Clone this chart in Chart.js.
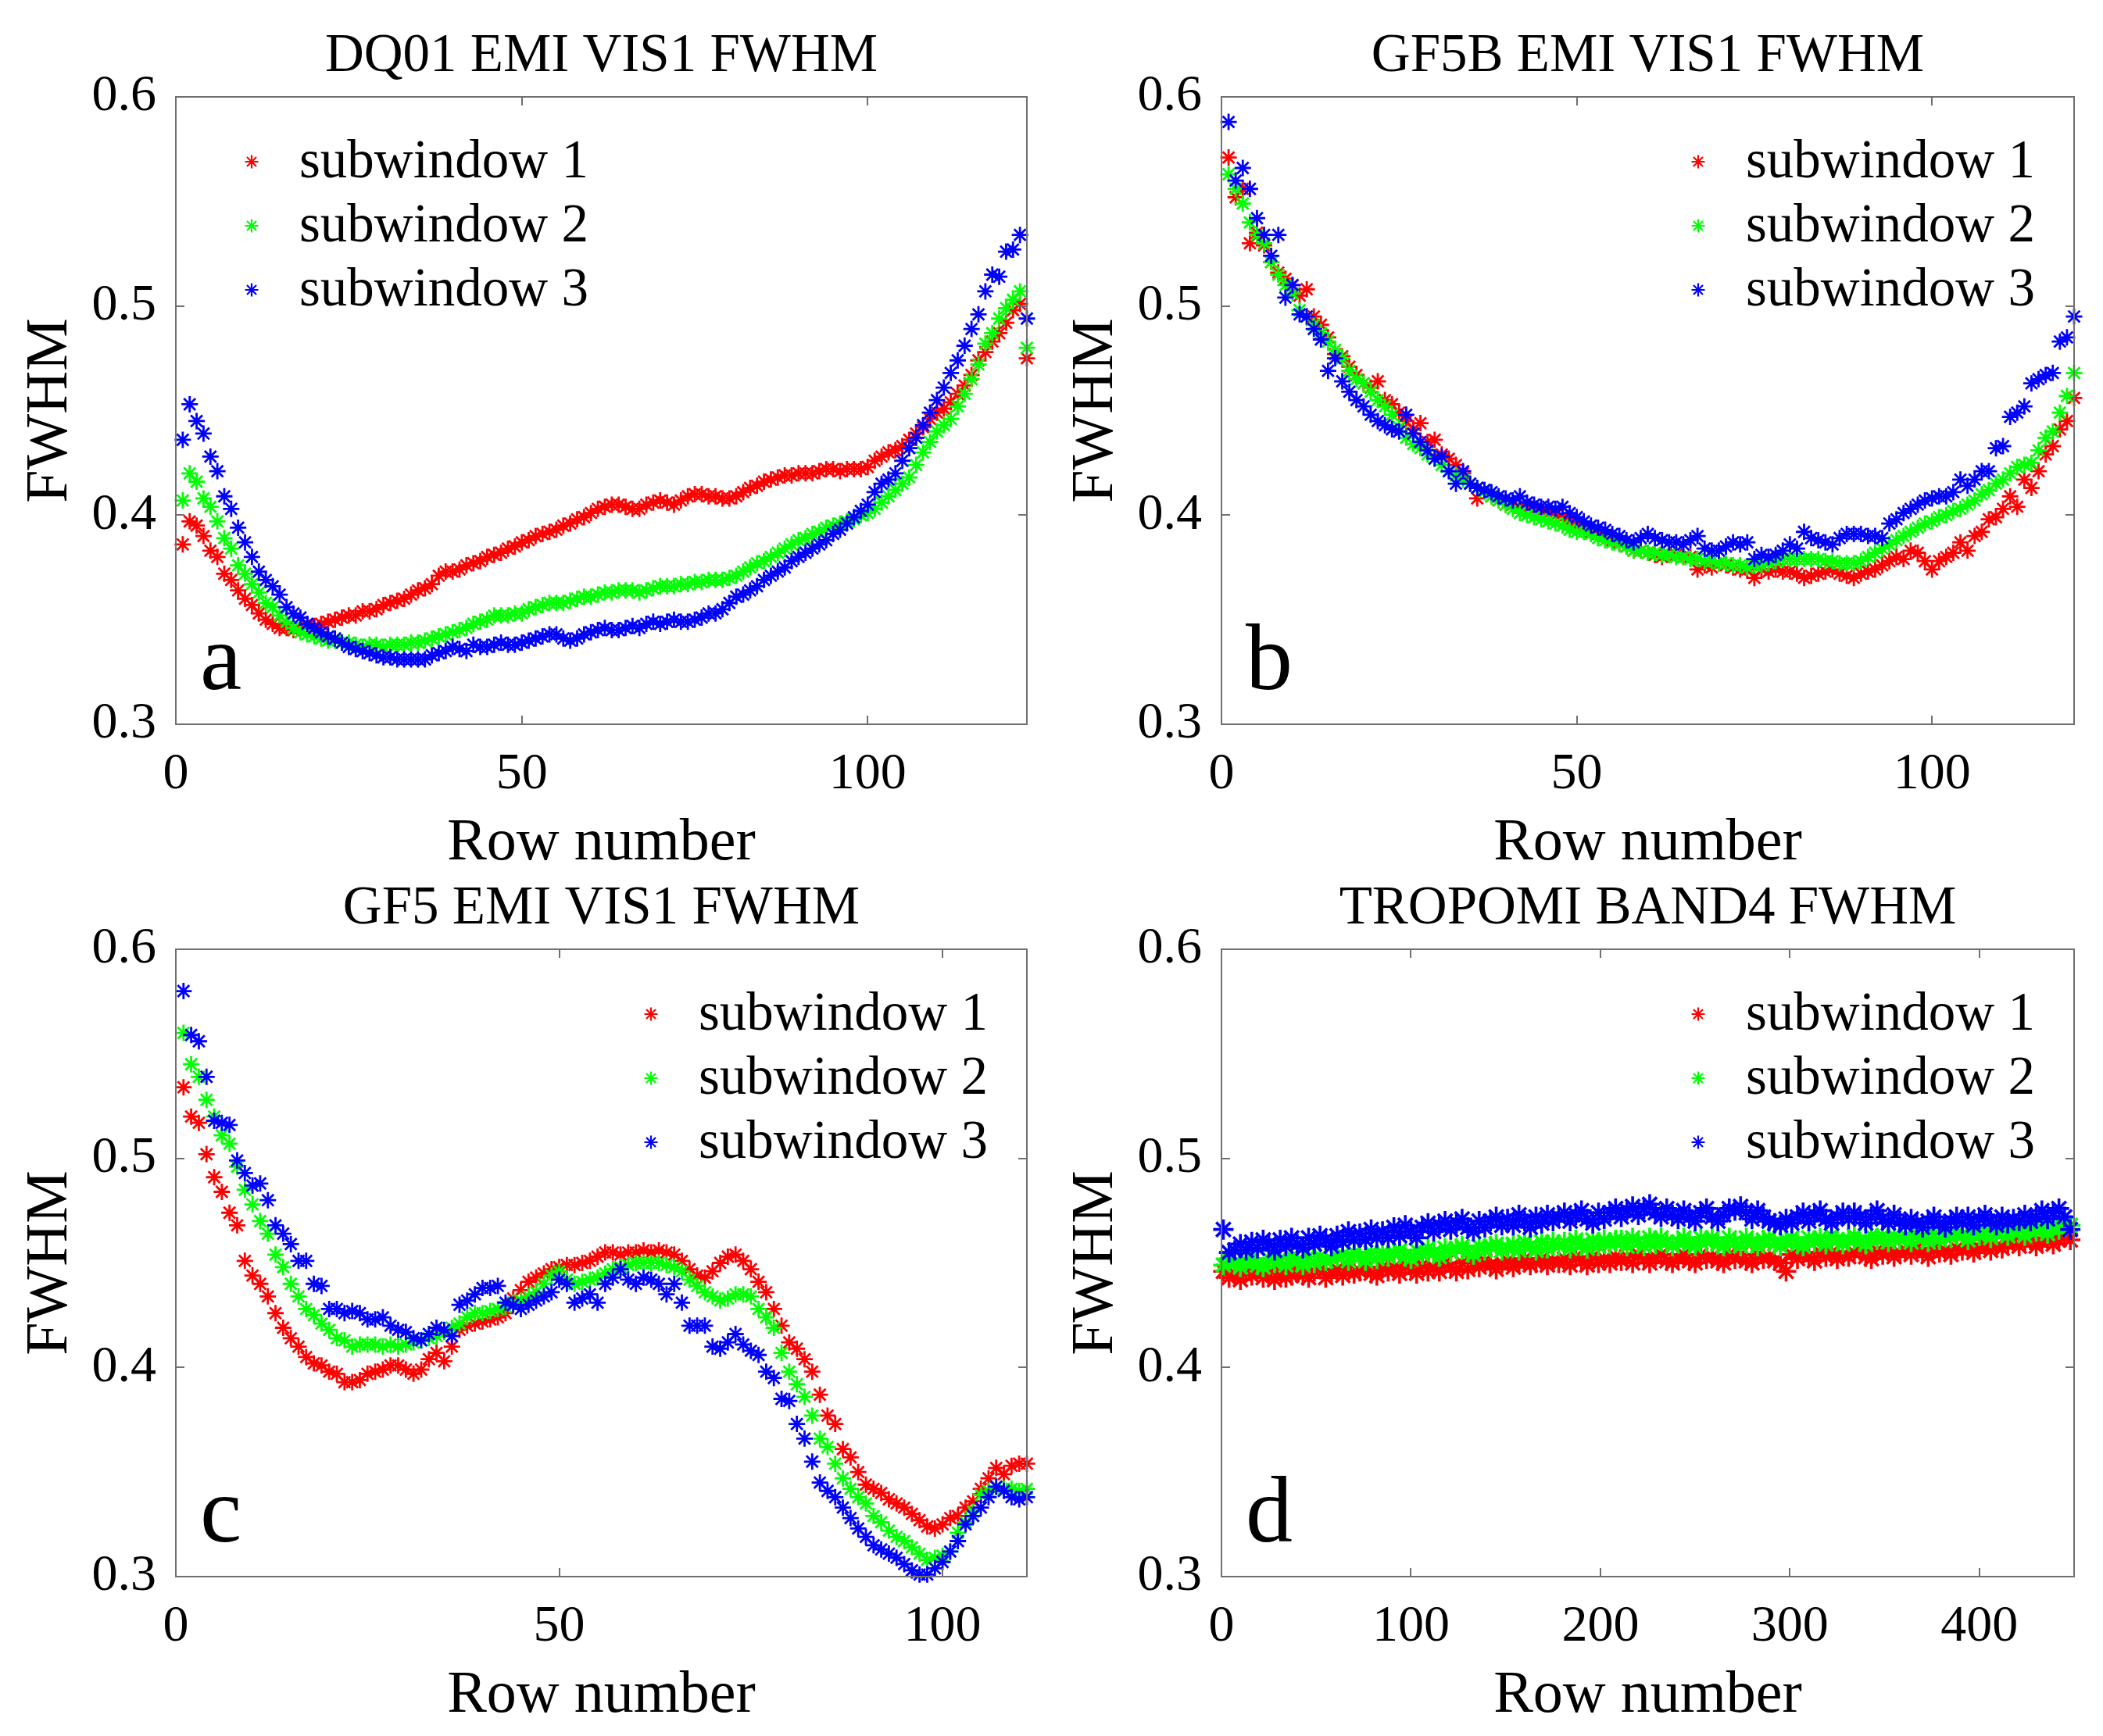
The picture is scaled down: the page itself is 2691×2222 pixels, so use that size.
<!DOCTYPE html>
<html>
<head>
<meta charset="utf-8">
<script src="https://cdn.jsdelivr.net/npm/chart.js@4.4.1/dist/chart.umd.min.js"></script>
<style>
  html, body { margin: 0; padding: 0; background: #fff; overflow: hidden; }
  body { width: 2691px; height: 2222px; position: relative; }
  .panel { position: absolute; }
  .panel canvas { display: block; }
</style>
</head>
<body>
<div class="panel" style="left:0px;top:0px"><canvas id="chartA" width="1345" height="1130"></canvas></div>
<div class="panel" style="left:1338px;top:0px"><canvas id="chartB" width="1353" height="1130"></canvas></div>
<div class="panel" style="left:0px;top:1091px"><canvas id="chartC" width="1345" height="1130"></canvas></div>
<div class="panel" style="left:1338px;top:1091px"><canvas id="chartD" width="1353" height="1130"></canvas></div>
<script>
// series names and colours (MATLAB r*, g*, b*)
const seriesNames = ["subwindow 1", "subwindow 2", "subwindow 3"];
const seriesColors = ["#ff0000", "#00ff00", "#0000ff"];

// tick labels
const yTicks = [0.3, 0.4, 0.5, 0.6];
const xTicksEmi = [0, 50, 100];
const xTicksTropomi = [0, 100, 200, 300, 400];

// panel a: DQ01 EMI VIS1, rows 1..123
const dq01Sub1 = [0.386,0.397,0.395,0.390,0.383,0.380,0.372,0.369,0.364,0.360,
  0.357,0.353,0.350,0.348,0.346,0.346,0.345,0.346,0.347,0.347,
  0.348,0.349,0.350,0.351,0.352,0.352,0.354,0.354,0.355,0.357,
  0.358,0.359,0.360,0.362,0.364,0.365,0.367,0.371,0.373,0.373,
  0.374,0.376,0.377,0.378,0.380,0.381,0.382,0.384,0.385,0.387,
  0.388,0.390,0.391,0.392,0.393,0.395,0.396,0.398,0.399,0.401,
  0.403,0.404,0.405,0.405,0.404,0.403,0.403,0.405,0.406,0.407,
  0.406,0.405,0.407,0.409,0.410,0.410,0.409,0.409,0.408,0.408,
  0.409,0.411,0.413,0.414,0.416,0.417,0.418,0.419,0.419,0.420,
  0.420,0.420,0.421,0.422,0.422,0.421,0.422,0.422,0.422,0.423,
  0.426,0.428,0.430,0.431,0.433,0.436,0.439,0.442,0.446,0.449,
  0.451,0.454,0.458,0.462,0.467,0.474,0.478,0.483,0.487,0.492,
  0.498,0.501,0.475];
const dq01Sub2 = [0.407,0.420,0.416,0.408,0.404,0.397,0.389,0.384,0.376,0.372,
  0.367,0.363,0.358,0.356,0.352,0.349,0.346,0.344,0.343,0.342,
  0.341,0.340,0.340,0.339,0.339,0.338,0.337,0.338,0.338,0.337,
  0.338,0.338,0.338,0.339,0.339,0.340,0.341,0.342,0.343,0.344,
  0.345,0.346,0.348,0.349,0.350,0.352,0.352,0.352,0.353,0.353,
  0.355,0.356,0.357,0.358,0.358,0.358,0.359,0.360,0.361,0.361,
  0.362,0.363,0.363,0.364,0.364,0.364,0.363,0.364,0.365,0.366,
  0.366,0.366,0.367,0.367,0.368,0.368,0.369,0.369,0.369,0.370,
  0.371,0.373,0.375,0.377,0.378,0.380,0.382,0.384,0.386,0.388,
  0.389,0.391,0.392,0.394,0.395,0.396,0.397,0.398,0.400,0.401,
  0.403,0.406,0.409,0.412,0.415,0.418,0.424,0.430,0.435,0.440,
  0.443,0.446,0.452,0.458,0.465,0.472,0.482,0.487,0.494,0.499,
  0.503,0.507,0.480];
const dq01Sub3 = [0.436,0.453,0.445,0.439,0.428,0.421,0.409,0.403,0.394,0.387,
  0.380,0.373,0.369,0.366,0.362,0.356,0.353,0.351,0.348,0.346,
  0.344,0.342,0.341,0.339,0.337,0.336,0.335,0.334,0.333,0.332,
  0.332,0.331,0.331,0.331,0.331,0.331,0.333,0.334,0.335,0.337,
  0.336,0.335,0.338,0.337,0.337,0.338,0.339,0.338,0.338,0.339,
  0.340,0.341,0.342,0.343,0.343,0.341,0.340,0.341,0.343,0.344,
  0.345,0.346,0.345,0.345,0.346,0.347,0.346,0.348,0.349,0.348,
  0.349,0.350,0.349,0.349,0.350,0.351,0.353,0.353,0.355,0.358,
  0.361,0.362,0.364,0.366,0.369,0.371,0.373,0.375,0.378,0.380,
  0.382,0.384,0.386,0.388,0.391,0.393,0.396,0.399,0.402,0.405,
  0.411,0.415,0.417,0.420,0.426,0.432,0.437,0.443,0.449,0.455,
  0.461,0.468,0.474,0.481,0.489,0.496,0.507,0.515,0.514,0.526,
  0.527,0.534,0.494];

// panel b: GF5B EMI VIS1, rows 1..120
const gf5bSub1 = [0.571,0.552,0.556,0.530,0.535,0.529,0.521,0.516,0.513,0.510,
  0.505,0.508,0.495,0.491,0.485,0.477,0.476,0.471,0.467,0.463,
  0.461,0.464,0.455,0.453,0.449,0.445,0.441,0.444,0.435,0.436,
  0.429,0.427,0.424,0.420,0.415,0.408,0.412,0.409,0.407,0.405,
  0.405,0.404,0.404,0.403,0.402,0.401,0.400,0.399,0.397,0.395,
  0.394,0.392,0.391,0.390,0.388,0.387,0.385,0.383,0.383,0.382,
  0.381,0.380,0.381,0.381,0.380,0.380,0.374,0.376,0.375,0.377,
  0.376,0.375,0.374,0.374,0.370,0.374,0.373,0.374,0.373,0.373,
  0.372,0.370,0.371,0.372,0.373,0.374,0.372,0.371,0.370,0.372,
  0.373,0.374,0.376,0.378,0.380,0.379,0.383,0.382,0.378,0.374,
  0.378,0.380,0.382,0.387,0.383,0.390,0.392,0.398,0.399,0.403,
  0.409,0.404,0.417,0.413,0.421,0.429,0.433,0.441,0.445,0.456];
const gf5bSub2 = [0.563,0.556,0.549,0.540,0.534,0.530,0.521,0.515,0.510,0.506,
  0.498,0.495,0.491,0.487,0.483,0.479,0.475,0.469,0.465,0.463,
  0.459,0.455,0.452,0.448,0.442,0.437,0.434,0.432,0.429,0.427,
  0.424,0.421,0.419,0.417,0.415,0.413,0.411,0.409,0.407,0.405,
  0.403,0.401,0.400,0.399,0.398,0.397,0.396,0.395,0.393,0.392,
  0.392,0.391,0.389,0.388,0.387,0.386,0.385,0.383,0.383,0.382,
  0.382,0.381,0.381,0.380,0.380,0.379,0.379,0.378,0.378,0.377,
  0.377,0.376,0.376,0.375,0.376,0.376,0.377,0.378,0.379,0.379,
  0.379,0.379,0.379,0.379,0.378,0.378,0.377,0.377,0.377,0.378,
  0.380,0.382,0.384,0.386,0.388,0.390,0.392,0.394,0.396,0.397,
  0.399,0.400,0.402,0.403,0.405,0.407,0.410,0.412,0.415,0.417,
  0.420,0.423,0.424,0.425,0.431,0.437,0.440,0.449,0.457,0.468];
const gf5bSub3 = [0.588,0.560,0.566,0.556,0.542,0.534,0.524,0.534,0.504,0.510,
  0.496,0.495,0.489,0.484,0.469,0.475,0.464,0.459,0.455,0.452,
  0.448,0.445,0.443,0.441,0.440,0.448,0.439,0.435,0.431,0.427,
  0.428,0.421,0.415,0.421,0.415,0.413,0.412,0.411,0.409,0.408,
  0.407,0.409,0.406,0.405,0.404,0.404,0.403,0.404,0.401,0.399,
  0.397,0.395,0.394,0.393,0.391,0.390,0.388,0.387,0.389,0.391,
  0.389,0.388,0.387,0.387,0.386,0.388,0.390,0.384,0.383,0.383,
  0.385,0.387,0.386,0.387,0.379,0.381,0.380,0.381,0.383,0.386,
  0.384,0.392,0.389,0.388,0.387,0.386,0.389,0.391,0.391,0.391,
  0.390,0.390,0.389,0.396,0.398,0.401,0.403,0.405,0.407,0.408,
  0.409,0.409,0.411,0.417,0.414,0.417,0.421,0.421,0.432,0.433,
  0.447,0.449,0.452,0.463,0.465,0.467,0.468,0.483,0.485,0.495];

// panel c: GF5 EMI VIS1, rows 1..111
const gf5Sub1 = [0.534,0.520,0.517,0.502,0.491,0.484,0.474,0.468,0.451,0.444,
  0.440,0.434,0.426,0.419,0.414,0.410,0.405,0.402,0.401,0.398,
  0.397,0.393,0.393,0.394,0.397,0.398,0.399,0.401,0.401,0.399,
  0.397,0.399,0.404,0.407,0.403,0.410,0.418,0.420,0.421,0.422,
  0.423,0.424,0.426,0.433,0.437,0.441,0.443,0.445,0.447,0.448,
  0.449,0.449,0.450,0.451,0.453,0.455,0.455,0.454,0.455,0.455,
  0.456,0.455,0.456,0.455,0.454,0.451,0.447,0.444,0.443,0.446,
  0.450,0.453,0.454,0.451,0.447,0.441,0.436,0.428,0.420,0.412,
  0.409,0.404,0.398,0.387,0.377,0.373,0.361,0.357,0.350,0.344,
  0.342,0.340,0.337,0.335,0.333,0.330,0.327,0.324,0.323,0.325,
  0.328,0.329,0.333,0.336,0.342,0.347,0.352,0.349,0.353,0.354,
  0.354];
const gf5Sub2 = [0.560,0.545,0.539,0.528,0.520,0.511,0.507,0.496,0.485,0.478,
  0.470,0.464,0.454,0.448,0.440,0.434,0.428,0.425,0.421,0.418,
  0.414,0.413,0.410,0.411,0.411,0.411,0.410,0.411,0.410,0.411,
  0.412,0.413,0.414,0.415,0.417,0.419,0.421,0.424,0.426,0.426,
  0.427,0.428,0.429,0.431,0.432,0.434,0.436,0.440,0.444,0.446,
  0.442,0.440,0.441,0.442,0.443,0.445,0.447,0.448,0.449,0.450,
  0.450,0.450,0.450,0.449,0.448,0.446,0.442,0.439,0.436,0.434,
  0.432,0.433,0.435,0.435,0.434,0.428,0.424,0.419,0.407,0.398,
  0.392,0.386,0.377,0.366,0.362,0.354,0.347,0.342,0.338,0.335,
  0.329,0.326,0.322,0.319,0.317,0.314,0.311,0.308,0.309,0.310,
  0.312,0.321,0.326,0.331,0.339,0.341,0.343,0.342,0.342,0.341,
  0.342];
const gf5Sub3 = [0.580,0.559,0.556,0.539,0.518,0.517,0.516,0.499,0.493,0.487,
  0.488,0.480,0.468,0.464,0.459,0.451,0.451,0.440,0.439,0.428,
  0.428,0.426,0.427,0.426,0.423,0.423,0.424,0.420,0.418,0.417,
  0.414,0.413,0.416,0.419,0.418,0.415,0.430,0.432,0.435,0.438,
  0.438,0.439,0.431,0.430,0.428,0.430,0.432,0.434,0.436,0.442,
  0.440,0.431,0.433,0.435,0.431,0.440,0.443,0.447,0.442,0.440,
  0.443,0.442,0.440,0.435,0.440,0.431,0.420,0.420,0.420,0.410,
  0.409,0.412,0.416,0.411,0.408,0.406,0.398,0.395,0.385,0.384,
  0.373,0.366,0.355,0.345,0.341,0.338,0.333,0.328,0.323,0.319,
  0.315,0.313,0.311,0.309,0.306,0.303,0.301,0.301,0.304,0.307,
  0.312,0.317,0.325,0.329,0.333,0.338,0.343,0.341,0.338,0.337,
  0.338];

// panel d: TROPOMI BAND4, every third row (1, 4, 7, ... 448)
const tropomiStep = 3;
const tropomiSub1 = [0.446,0.443,0.445,0.442,0.446,0.444,0.447,0.443,0.445,0.442,
  0.446,0.443,0.444,0.447,0.444,0.443,0.446,0.447,0.443,0.445,
  0.447,0.444,0.448,0.445,0.446,0.448,0.445,0.444,0.448,0.446,
  0.448,0.445,0.449,0.447,0.445,0.449,0.446,0.448,0.446,0.450,
  0.448,0.446,0.450,0.447,0.450,0.448,0.451,0.449,0.447,0.450,
  0.451,0.448,0.450,0.452,0.449,0.450,0.452,0.449,0.451,0.450,
  0.452,0.449,0.453,0.451,0.449,0.453,0.450,0.452,0.450,0.453,
  0.451,0.453,0.450,0.454,0.452,0.450,0.453,0.454,0.451,0.450,
  0.452,0.454,0.451,0.450,0.454,0.452,0.453,0.451,0.450,0.454,
  0.452,0.454,0.451,0.450,0.454,0.452,0.453,0.451,0.450,0.446,
  0.454,0.452,0.455,0.453,0.451,0.455,0.453,0.455,0.452,0.454,
  0.453,0.455,0.456,0.453,0.452,0.456,0.454,0.456,0.453,0.455,
  0.456,0.454,0.457,0.455,0.453,0.457,0.455,0.456,0.454,0.457,
  0.456,0.458,0.455,0.457,0.459,0.456,0.458,0.457,0.459,0.460,
  0.458,0.460,0.461,0.458,0.460,0.462,0.459,0.461,0.463,0.461];
const tropomiSub2 = [0.449,0.452,0.450,0.448,0.451,0.452,0.449,0.448,0.452,0.450,
  0.452,0.449,0.453,0.451,0.449,0.453,0.450,0.453,0.451,0.452,
  0.453,0.454,0.451,0.455,0.453,0.451,0.455,0.452,0.455,0.453,
  0.455,0.456,0.453,0.452,0.456,0.454,0.457,0.455,0.453,0.457,
  0.455,0.457,0.458,0.455,0.454,0.458,0.456,0.458,0.459,0.456,
  0.457,0.459,0.456,0.460,0.458,0.456,0.460,0.457,0.460,0.458,
  0.460,0.457,0.461,0.459,0.457,0.461,0.458,0.461,0.459,0.461,
  0.461,0.458,0.462,0.460,0.458,0.462,0.459,0.462,0.460,0.458,
  0.460,0.462,0.459,0.458,0.462,0.460,0.462,0.459,0.458,0.462,
  0.460,0.458,0.462,0.460,0.458,0.461,0.462,0.459,0.458,0.461,
  0.462,0.459,0.458,0.462,0.460,0.462,0.459,0.463,0.461,0.459,
  0.461,0.463,0.460,0.459,0.463,0.461,0.463,0.460,0.463,0.461,
  0.463,0.460,0.464,0.462,0.460,0.464,0.461,0.464,0.462,0.464,
  0.464,0.461,0.465,0.463,0.465,0.462,0.465,0.466,0.463,0.466,
  0.466,0.463,0.467,0.465,0.467,0.464,0.468,0.466,0.468,0.468];
const tropomiSub3 = [0.466,0.455,0.456,0.459,0.456,0.460,0.457,0.461,0.459,0.456,
  0.461,0.458,0.462,0.459,0.457,0.462,0.459,0.463,0.461,0.458,
  0.463,0.460,0.465,0.461,0.464,0.461,0.466,0.462,0.465,0.462,
  0.467,0.463,0.468,0.465,0.462,0.467,0.469,0.465,0.468,0.470,
  0.466,0.469,0.471,0.467,0.465,0.470,0.467,0.470,0.472,0.468,
  0.471,0.468,0.473,0.470,0.467,0.472,0.469,0.473,0.470,0.472,
  0.474,0.470,0.473,0.475,0.471,0.469,0.474,0.471,0.474,0.476,
  0.472,0.475,0.477,0.473,0.476,0.478,0.474,0.472,0.476,0.473,
  0.471,0.475,0.472,0.470,0.474,0.476,0.472,0.470,0.473,0.476,
  0.475,0.477,0.474,0.471,0.475,0.472,0.470,0.469,0.468,0.471,
  0.469,0.472,0.474,0.470,0.473,0.475,0.471,0.469,0.472,0.474,
  0.471,0.474,0.472,0.469,0.472,0.475,0.471,0.469,0.473,0.470,
  0.468,0.471,0.469,0.467,0.470,0.472,0.469,0.467,0.470,0.472,
  0.469,0.472,0.468,0.471,0.473,0.470,0.468,0.472,0.469,0.471,
  0.470,0.473,0.470,0.472,0.475,0.471,0.474,0.476,0.472,0.466];

const serifFont = "Liberation Serif";
const axisGray = "#707070";

// draws the MATLAB style box, inward ticks, panel letter and legend
const matlabFrame = {
  id: "matlabFrame",
  afterDatasetsDraw(chart, args, opts) {
    const { ctx, chartArea: a, scales: { x, y } } = chart;
    const tick = 11;
    ctx.save();
    ctx.strokeStyle = axisGray;
    ctx.lineWidth = 2;
    ctx.beginPath();
    x.ticks.forEach(t => {
      const px = Math.round(x.getPixelForValue(t.value));
      ctx.moveTo(px, a.bottom); ctx.lineTo(px, a.bottom - tick);
      ctx.moveTo(px, a.top); ctx.lineTo(px, a.top + tick);
    });
    y.ticks.forEach(t => {
      const py = Math.round(y.getPixelForValue(t.value));
      ctx.moveTo(a.left, py); ctx.lineTo(a.left + tick, py);
      ctx.moveTo(a.right, py); ctx.lineTo(a.right - tick, py);
    });
    ctx.stroke();
    ctx.strokeRect(a.left, a.top, a.right - a.left, a.bottom - a.top);

    // panel letter
    ctx.fillStyle = "#000";
    ctx.font = "120px '" + serifFont + "'";
    ctx.textAlign = "left";
    ctx.textBaseline = "alphabetic";
    ctx.fillText(opts.letter, a.left + 31, a.bottom - 45);

    // legend
    const mx = opts.legendLeft ? a.left + 97 : a.right - 481;
    ctx.font = "69px '" + serifFont + "'";
    ctx.textBaseline = "middle";
    chart.data.datasets.forEach((ds, i) => {
      const my = a.top + 83 + i * 82;
      ctx.strokeStyle = ds.borderColor;
      ctx.lineWidth = 2.2;
      const r = 8.5;
      ctx.beginPath();
      for (let k = 0; k < 4; k++) {
        const ang = k * Math.PI / 4;
        ctx.moveTo(mx - r * Math.cos(ang), my - r * Math.sin(ang));
        ctx.lineTo(mx + r * Math.cos(ang), my + r * Math.sin(ang));
      }
      ctx.stroke();
      ctx.fillStyle = "#000";
      ctx.fillText(ds.label, mx + 61, my + 2);
    });
    ctx.restore();
  }
};

function makePanel(canvasId, title, letter, legendLeft, xMax, xTicks, seriesList, step, rightPad, markR, markW) {
  const datasets = seriesList.map((vals, i) => ({
    label: seriesNames[i],
    data: vals.map((v, k) => ({ x: 1 + k * step, y: v })),
    pointStyle: "star",
    pointRadius: markR,
    pointBorderWidth: markW,
    borderColor: seriesColors[i],
    backgroundColor: seriesColors[i],
    order: 3 - i, // blue drawn last, on top
    clip: false
  }));
  return new Chart(document.getElementById(canvasId), {
    type: "scatter",
    data: { datasets },
    plugins: [matlabFrame],
    options: {
      responsive: false,
      devicePixelRatio: 1,
      animation: false,
      events: [],
      layout: { padding: { left: 0, right: rightPad, top: 0, bottom: 0 } },
      plugins: {
        legend: { display: false },
        tooltip: { enabled: false },
        title: {
          display: true,
          text: title,
          fullSize: false,
          color: "#000",
          font: { family: serifFont, size: 69, weight: "normal" },
          padding: { top: 31, bottom: 10.2 }
        },
        matlabFrame: { letter, legendLeft }
      },
      scales: {
        x: {
          type: "linear",
          min: 0,
          max: xMax,
          afterBuildTicks: s => { s.ticks = xTicks.map(v => ({ value: v })); },
          afterFit: s => { s.height = 203; },
          grid: { display: false, drawTicks: false },
          border: { display: false },
          ticks: { color: "#000", padding: 25, maxRotation: 0, font: { family: serifFont, size: 66 } },
          title: {
            display: true,
            text: "Row number",
            color: "#000",
            font: { family: serifFont, size: 76 },
            padding: { top: 0, bottom: 4.4 }
          }
        },
        y: {
          type: "linear",
          min: 0.3,
          max: 0.6,
          afterBuildTicks: s => { s.ticks = yTicks.map(v => ({ value: v })); },
          afterFit: s => { s.width = 225; },
          grid: { display: false, drawTicks: false },
          border: { display: false },
          ticks: {
            color: "#000",
            padding: 25,
            font: { family: serifFont, size: 66 },
            callback: v => Number(v).toFixed(1)
          },
          title: {
            display: true,
            text: "FWHM",
            color: "#000",
            font: { family: serifFont, size: 76 },
            padding: { top: 19, bottom: 0 }
          }
        }
      }
    }
  });
}

makePanel("chartA", "DQ01 EMI VIS1 FWHM", "a", true, 123, xTicksEmi,
  [dq01Sub1, dq01Sub2, dq01Sub3], 1, 31, 10.5, 2.8);
makePanel("chartB", "GF5B EMI VIS1 FWHM", "b", false, 120, xTicksEmi,
  [gf5bSub1, gf5bSub2, gf5bSub3], 1, 37, 10.5, 2.8);
makePanel("chartC", "GF5 EMI VIS1 FWHM", "c", false, 111, xTicksEmi,
  [gf5Sub1, gf5Sub2, gf5Sub3], 1, 31, 10.5, 2.8);
makePanel("chartD", "TROPOMI BAND4 FWHM", "d", false, 450, xTicksTropomi,
  [tropomiSub1, tropomiSub2, tropomiSub3], tropomiStep, 37, 13, 3.6);
</script>
</body>
</html>
